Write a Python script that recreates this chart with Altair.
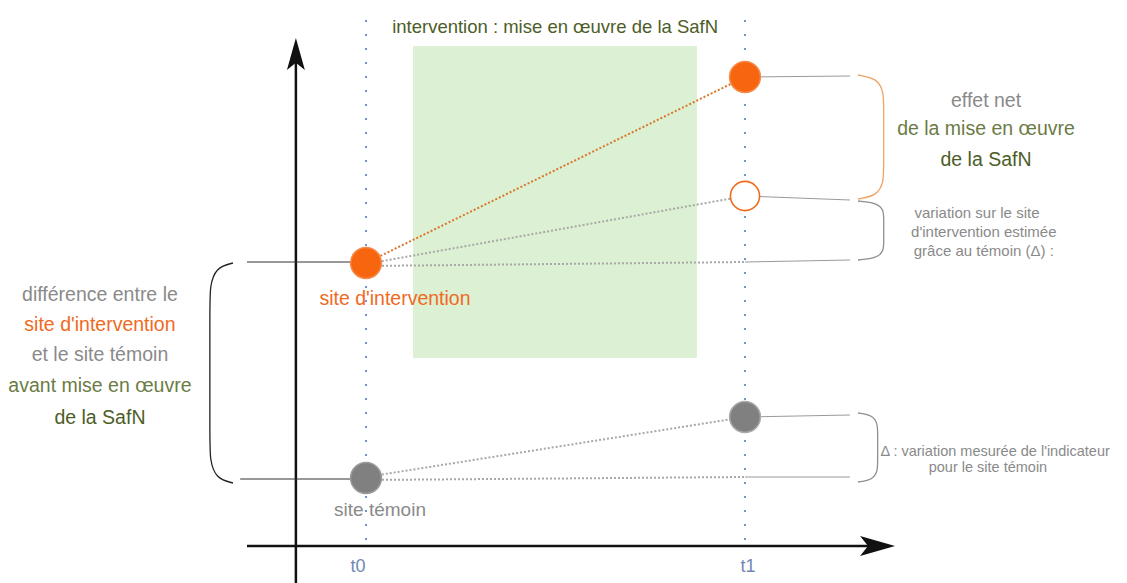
import altair as alt
import pandas as pd

# ---- data (time in units t0=0, t1=1 ; indicator in arbitrary units) ----
time_labels = ["t0", "t1"]
time_pos = [0.0, 1.0]
site_intervention = [2.83, 4.69]      # measured at t0, t1
site_temoin = [0.68, 1.29]            # measured at t0, t1
contrefactuel_t1 = 3.50               # estimated intervention value without SafN
intervention_window = [0.124, 0.873]  # time span of SafN implementation
intervention_band = [1.88, 5.00]

X_DOM = [-0.9446, 1.9868]
Y_DOM = [-0.29, 5.38]
W, H = 1111, 567

xs = alt.Scale(domain=X_DOM, nice=False, zero=False)
ys = alt.Scale(domain=Y_DOM, nice=False, zero=False)

def X(f="x"):
    return alt.X(f"{f}:Q", scale=xs, axis=None)

def Y(f="y"):
    return alt.Y(f"{f}:Q", scale=ys, axis=None)

t0, t1 = time_pos
i0, i1 = site_intervention
w0, w1 = site_temoin
xr = 1.277  # end of right connector lines
xl = -0.314

# green intervention box
rect = alt.Chart(pd.DataFrame({
    "x": [intervention_window[0]], "x2": [intervention_window[1]],
    "y": [intervention_band[0]], "y2": [intervention_band[1]]})).mark_rect(
    color="#dcf0d3").encode(x=X(), x2="x2:Q", y=Y(), y2="y2:Q")

# vertical dotted time markers
vlines = alt.Chart(pd.DataFrame({"x": time_pos, "y": [0.06, 0.06], "y2": [5.28, 5.28]})).mark_rule(
    color="#7393c9", strokeWidth=2, strokeDash=[2, 12]).encode(x=X(), y=Y(), y2="y2:Q")

# axes
axes = alt.Chart(pd.DataFrame({
    "x": [-0.185, xl], "x2": [-0.185, 1.37], "y": [-0.40, 0.0], "y2": [5.0, 0.0]})).mark_rule(
    color="#111", strokeWidth=2.5).encode(x=X(), x2="x2:Q", y=Y(), y2="y2:Q")

up = alt.Chart(pd.DataFrame({"x": [-0.185], "y": [5.08]})).mark_point(
    shape="M0,0 L0.56,2 L0,1.55 L-0.56,2 Z", size=1024, filled=True, color="#111", opacity=1
).encode(x=X(), y=Y())
right = alt.Chart(pd.DataFrame({"x": [1.396], "y": [0.0]})).mark_point(
    shape="M0,0 L-2,-0.57 L-1.55,0 L-2,0.57 Z", size=1225, filled=True, color="#111", opacity=1
).encode(x=X(), y=Y())

# solid connector lines
solid_left = alt.Chart(pd.DataFrame({
    "x": [xl, -0.332], "x2": [t0, t0], "y": [i0 + 0.01, w0 - 0.01], "y2": [i0 + 0.01, w0 - 0.01]})).mark_rule(
    color="#333", strokeWidth=1.2).encode(x=X(), x2="x2:Q", y=Y(), y2="y2:Q")

solid_right = alt.Chart(pd.DataFrame({
    "x": [t1] * 5, "x2": [xr] * 5,
    "y": [i1, contrefactuel_t1, i0 + 0.01, w1, w0 + 0.01],
    "y2": [i1 + 0.01, contrefactuel_t1 - 0.04, i0 + 0.03, w1 + 0.02, w0 + 0.01]})).mark_rule(
    color="#9a9a9a", strokeWidth=1).encode(x=X(), x2="x2:Q", y=Y(), y2="y2:Q")

# dotted trajectories
dot_orange = alt.Chart(pd.DataFrame({"x": [t0], "x2": [t1], "y": [i0], "y2": [i1]})).mark_rule(
    color="#d9762a", strokeWidth=2, strokeDash=[2, 2]).encode(x=X(), x2="x2:Q", y=Y(), y2="y2:Q")

dot_grey = alt.Chart(pd.DataFrame({
    "x": [t0, t0, t0, t0], "x2": [t1, t1, t1, t1],
    "y": [i0 - 0.01, i0 - 0.03, w0 + 0.01, w0 - 0.02],
    "y2": [contrefactuel_t1, i0 + 0.01, w1, w0 + 0.01]})).mark_rule(
    color="#a8a8a8", strokeWidth=2, strokeDash=[2, 2]).encode(x=X(), x2="x2:Q", y=Y(), y2="y2:Q")

# braces (rounded, parenthesis-like)
def brace(bid, xe, xb, yt, yb, h, color):
    dx = xb - xe
    pts = [(xe, yt), (xe + 0.75 * dx, yt - 0.15 * h), (xb, yt - 0.8 * h), (xb, yt - 1.4 * h),
           (xb, yb + 1.4 * h), (xb, yb + 0.8 * h), (xe + 0.75 * dx, yb + 0.15 * h), (xe, yb)]
    return [{"id": bid, "o": k, "x": p[0], "y": p[1], "c": color} for k, p in enumerate(pts)]

br = []
br += brace("b1", 1.298, 1.366, 4.71, 3.47, 0.22, "#eea364")
br += brace("b2", 1.298, 1.366, 3.45, 2.86, 0.12, "#8f8f8f")
br += brace("b3", 1.298, 1.350, 1.33, 0.64, 0.14, "#8f8f8f")
br += brace("b4", -0.351, -0.412, 2.83, 0.63, 0.30, "#222222")
braces = alt.Chart(pd.DataFrame(br)).mark_line(interpolate="basis", strokeWidth=1.3).encode(
    x=X(), y=Y(), detail="id:N", order="o:Q", color=alt.Color("c:N", scale=None))

# points
pts = pd.DataFrame({
    "x": [t0, t1, t0, t1],
    "y": [i0, i1, w0, w1],
    "fill": ["#f7650f", "#f7650f", "#808080", "#808080"],
    "stroke": ["#f58a4a", "#f58a4a", "#9a9a9a", "#aaaaaa"]})
circles = alt.Chart(pts).mark_point(filled=True, size=950, opacity=1, strokeWidth=1.5, shape="circle").encode(
    x=X(), y=Y(), fill=alt.Fill("fill:N", scale=None), stroke=alt.Stroke("stroke:N", scale=None))

open_c = alt.Chart(pd.DataFrame({"x": [t1], "y": [contrefactuel_t1]})).mark_point(
    shape="circle", size=850, filled=False, fill="white", fillOpacity=1, stroke="#ee6a1c", strokeWidth=1.6,
    opacity=1).encode(x=X(), y=Y())

# texts
OLIVE_D = "#4d5d28"
OLIVE = "#6b7b44"
GREY = "#8a8a8a"
ORANGE = "#f06a1e"
BLUE = "#6f88b3"
texts = [
    ("intervention : mise en œuvre de la SafN", 0.499, 5.19, OLIVE_D, 18.5),
    ("site d'intervention", 0.0765, 2.47, ORANGE, 19.5),
    ("site témoin", 0.037, 0.36, GREY, 19),
    (time_labels[0], t0 - 0.021, -0.21, BLUE, 18),
    (time_labels[1], t1 + 0.008, -0.21, BLUE, 18),
    ("différence entre le", -0.702, 2.51, GREY, 19.5),
    ("site d'intervention", -0.702, 2.21, ORANGE, 19.5),
    ("et le site témoin", -0.702, 1.91, GREY, 19.5),
    ("avant mise en œuvre", -0.702, 1.60, OLIVE, 19.5),
    ("de la SafN", -0.702, 1.28, OLIVE_D, 19.5),
    ("effet net", 1.636, 4.45, GREY, 19.5),
    ("de la mise en œuvre", 1.636, 4.17, OLIVE, 19.5),
    ("de la SafN", 1.636, 3.86, OLIVE_D, 19.5),
    ("variation sur le site", 1.612, 3.33, GREY, 15),
    ("d'intervention estimée", 1.63, 3.14, GREY, 15),
    ("grâce au témoin (Δ) :", 1.63, 2.95, GREY, 15),
    ("Δ : variation mesurée de l'indicateur", 1.66, 0.94, GREY, 14.5),
    ("pour le site témoin", 1.641, 0.78, GREY, 14.5),
]
tdf = pd.DataFrame(texts, columns=["t", "x", "y", "c", "s"])
text = alt.Chart(tdf).mark_text(font="Liberation Sans", baseline="middle", align="center").encode(
    x=X(), y=Y(), text="t:N", color=alt.Color("c:N", scale=None), size=alt.Size("s:Q", scale=None))

chart = alt.layer(
    rect, vlines, axes, up, right, solid_left, solid_right, dot_orange, dot_grey, braces,
    circles, open_c, text
).properties(
    width=W, height=H,
    autosize=alt.AutoSizeParams(type="none"),
    padding={"left": 0, "top": 0, "right": 0, "bottom": 8},
    background="white",
).configure_view(stroke=None)

chart.save("out.html", embed_options={"renderer": "svg", "actions": False})
